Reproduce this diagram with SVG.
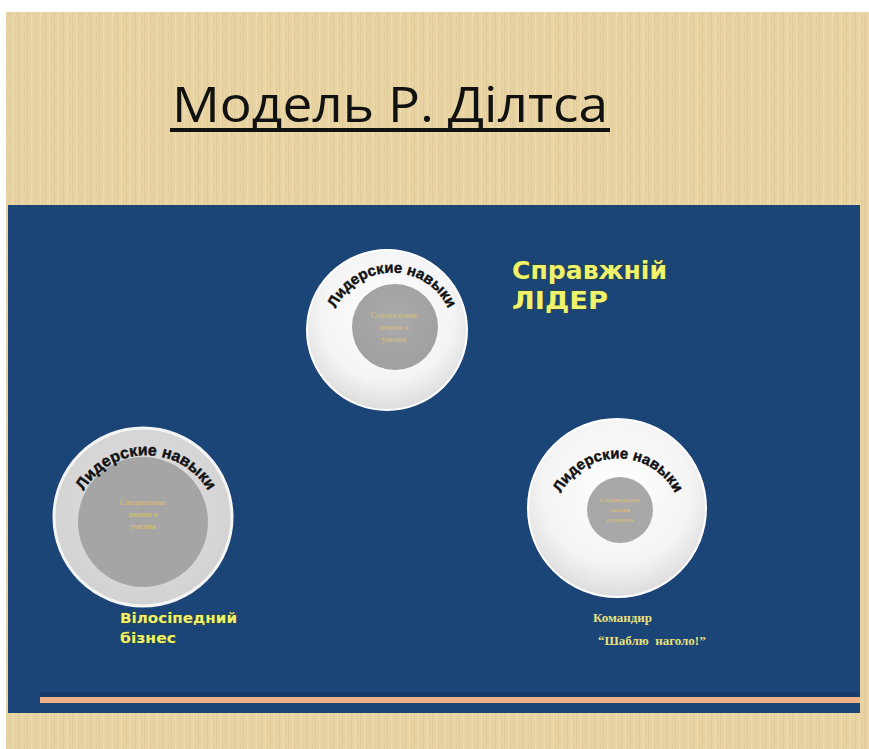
<svg xmlns="http://www.w3.org/2000/svg" width="869" height="749" viewBox="0 0 869 749">
<style>
.arc{font-family:"Liberation Sans",Arial,sans-serif;font-size:15px;font-weight:bold;fill:#111;stroke:#111;stroke-width:0.4px}
.inner{font-family:"Liberation Serif",serif;font-size:8px;fill:#dcc070;text-anchor:middle}
.lab{font-family:"DejaVu Sans",sans-serif;font-weight:bold;fill:#eef26c;stroke:#3a4a2a;stroke-width:0.8px;paint-order:stroke}
.cmd{font-family:"Liberation Serif",serif;font-weight:bold;font-size:13px;fill:#e8e07a}
</style>
<defs>
<pattern id="tex" width="9" height="14" patternUnits="userSpaceOnUse">
<rect width="9" height="14" fill="#e8d3a2"/>
<rect x="0" width="1" height="14" fill="#e2cb98"/>
<rect x="4" width="1" height="14" fill="#eddaad"/>
<rect x="6" y="3" width="1" height="8" fill="#e3cc99"/>
</pattern>
<radialGradient id="wg" cx="0.5" cy="0.4" r="0.6">
<stop offset="0" stop-color="#ffffff"/>
<stop offset="0.7" stop-color="#f4f4f4"/>
<stop offset="1" stop-color="#dcdcdc"/>
</radialGradient>
<radialGradient id="gg" cx="0.5" cy="0.45" r="0.55">
<stop offset="0" stop-color="#e2e2e2"/>
<stop offset="1" stop-color="#d2d2d2"/>
</radialGradient>
<radialGradient id="ig" cx="0.5" cy="0.4" r="0.6">
<stop offset="0" stop-color="#aaaaaa"/>
<stop offset="1" stop-color="#a0a0a0"/>
</radialGradient>
<path id="a1" d="M 330.9,324.2 A 62,62 0 0 1 453.1,324.2"/>
<path id="a2" d="M 74.3,520.7 A 72,72 0 0 1 217.7,520.7"/>
<path id="a3" d="M 554.2,517.4 A 64,64 0 0 1 681.8,517.4"/>
</defs>
<rect width="869" height="749" fill="#ffffff"/>
<rect x="6" y="12" width="863" height="737" fill="url(#tex)"/>
<text x="172" y="122" font-family="Open Sans,Noto Sans,sans-serif" font-size="50" fill="#111" textLength="436" lengthAdjust="spacingAndGlyphs">Модель Р. Ділтса</text>
<rect x="170" y="128" width="440" height="4" fill="#111"/>
<rect x="8" y="205" width="852" height="508" fill="#1b4477"/>
<rect x="40" y="692" width="820" height="5" fill="#173a68"/>
<rect x="40" y="697" width="820" height="6" fill="#efb189"/>
<g id="top-circle">
<circle cx="387" cy="330" r="80" fill="url(#wg)" stroke="#ffffff" stroke-width="2"/>
<circle cx="395" cy="327" r="43" fill="url(#ig)"/>
<text class="arc"><textPath href="#a1" startOffset="50%" text-anchor="middle">Лидерские навыки</textPath></text>
<text class="inner" x="394" y="318">Специальные</text>
<text class="inner" x="394" y="330">знания и</text>
<text class="inner" x="394" y="342">умения</text>
</g>
<g id="left-circle">
<circle cx="143" cy="517" r="89" fill="url(#gg)" stroke="#f4f4f4" stroke-width="3"/>
<circle cx="143" cy="522" r="65" fill="#a5a5a5"/>
<text class="arc" style="font-size:16px"><textPath href="#a2" startOffset="50%" text-anchor="middle">Лидерские навыки</textPath></text>
<text class="inner" x="143" y="505">Специальные</text>
<text class="inner" x="143" y="517">знания и</text>
<text class="inner" x="143" y="529">умения</text>
</g>
<g id="right-circle">
<circle cx="617" cy="508" r="89" fill="url(#wg)" stroke="#ffffff" stroke-width="2"/>
<circle cx="620" cy="510" r="33" fill="#a8a8a8"/>
<text class="arc"><textPath href="#a3" startOffset="50%" text-anchor="middle">Лидерские навыки</textPath></text>
<text class="inner" x="620" y="502" style="font-size:7px">Специальные</text>
<text class="inner" x="620" y="512" style="font-size:7px">знания</text>
<text class="inner" x="620" y="522" style="font-size:7px">и умения</text>
</g>
<g id="labels">
<text class="lab" x="512" y="279" font-size="24" textLength="155" lengthAdjust="spacingAndGlyphs">Справжній</text>
<text class="lab" x="512" y="309" font-size="24" textLength="96" lengthAdjust="spacingAndGlyphs">ЛІДЕР</text>
<text class="lab" x="120" y="623" font-size="14" textLength="117" lengthAdjust="spacingAndGlyphs">Вілосіпедний</text>
<text class="lab" x="120" y="643" font-size="14" textLength="56" lengthAdjust="spacingAndGlyphs">бізнес</text>
<text class="cmd" x="593" y="622">Командир</text>
<text class="cmd" x="598" y="645" xml:space="preserve">“Шаблю  наголо!”</text>
</g>
<g id="connectors"/>
</svg>
